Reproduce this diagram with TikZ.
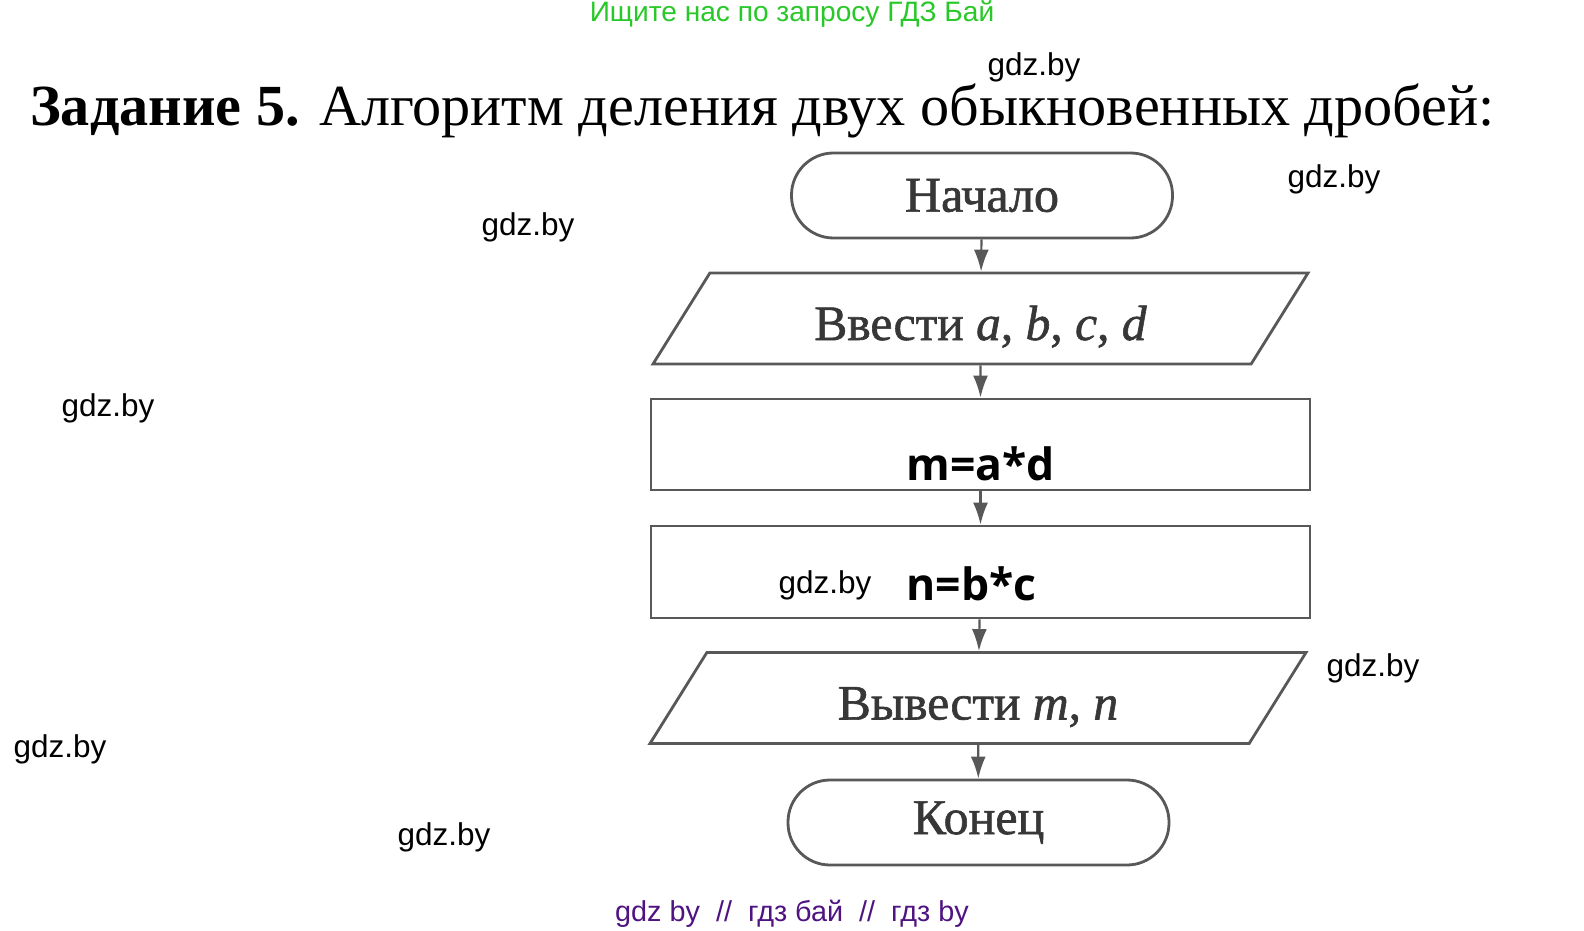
\documentclass[tikz,border=0pt]{standalone}
\usepackage{fontspec}
\setmainfont{Liberation Serif}
\newfontfamily\wmfont{Liberation Sans}
\newfontfamily\opfont{Open Sans}
\newfontfamily\flowfont{Liberation Serif}[FakeBold=1.2]
\usetikzlibrary{shapes.geometric,arrows.meta}
\definecolor{flowgray}{RGB}{88,88,88}
\definecolor{flowtext}{RGB}{55,55,55}
\definecolor{adgreen}{RGB}{40,200,40}
\definecolor{adpurple}{RGB}{80,20,130}
\tikzset{
  terminal/.style={draw=flowgray,line width=2.8pt,rounded corners=42pt,minimum width=381pt,minimum height=85pt,text=flowtext,font=\flowfont\fontsize{50}{56}\selectfont},
  iobox/.style={draw=flowgray,line width=2.8pt,trapezium,trapezium left angle=58,trapezium right angle=122,trapezium stretches body,minimum width=655pt,inner ysep=10pt,text height=57pt,text depth=14pt,text=flowtext,font=\flowfont\fontsize{49.5}{56}\selectfont},
  procbox/.style={draw=flowgray,rectangle,line width=2.8pt,minimum width=659pt,minimum height=91pt,text depth=0pt,text=black,font=\opfont\bfseries\fontsize{44.5}{50}\selectfont},
  wm/.style={font=\wmfont\fontsize{31.5}{36}\selectfont,text=black},
  flowarrow/.style={line width=2.2pt,flowgray,-{Latex[length=22pt,width=15pt]}}
}
\begin{document}
\begin{tikzpicture}[x=1pt,y=-1pt]
  \useasboundingbox[fill=white](0,0) rectangle (1584,931);
  % headers
  \node[font=\wmfont\fontsize{28.1}{32}\selectfont,text=adgreen] (ad) at (792,14) {Ищите нас по запросу ГДЗ Бай};
  \node[anchor=base west,inner sep=0pt,font=\fontsize{58.2}{64}\selectfont] (title) at (30,125.5)
    {\textbf{Задание 5.} Алгоритм деления двух обыкновенных дробей:};
  % flowchart
  \node[terminal] (start) at (982,195.5) {Начало};
  \node[iobox] (input) at (980.5,318.5) {Ввести \textit{a}, \textit{b}, \textit{c}, \textit{d}};
  \node[procbox,text height=71pt] (mult1) at (980.5,444.5) {m=a*d};
  \node[procbox,text height=56pt,minimum height=92pt] (mult2) at (980.5,572) {n=b*c\hspace*{18pt}};
  \node[iobox,minimum width=656pt] (output) at (978,698) {Вывести \textit{m}, \textit{n}};
  \node[terminal] (stop) at (978.5,822.5) {Конец};
  \draw[flowarrow] (start) -- (input);
  \draw[flowarrow] (input) -- (mult1);
  \draw[flowarrow] (mult1) -- (mult2);
  \draw[flowarrow] (mult2) -- (output);
  \draw[flowarrow] (output) -- (stop);
  % watermarks
  \node[wm] (wm1) at (1034,67) {gdz.by};
  \node[wm] (wm2) at (1334,179) {gdz.by};
  \node[wm] (wm3) at (528,227) {gdz.by};
  \node[wm] (wm4) at (108,408) {gdz.by};
  \node[wm] (wm5) at (825,585) {gdz.by};
  \node[wm] (wm6) at (1373,668) {gdz.by};
  \node[wm] (wm7) at (60,749) {gdz.by};
  \node[wm] (wm8) at (444,837) {gdz.by};
  \node[font=\wmfont\fontsize{28.8}{33}\selectfont,text=adpurple] (foot) at (792,914) {gdz by~~//~~гдз бай~~//~~гдз by};
\end{tikzpicture}
\end{document}
